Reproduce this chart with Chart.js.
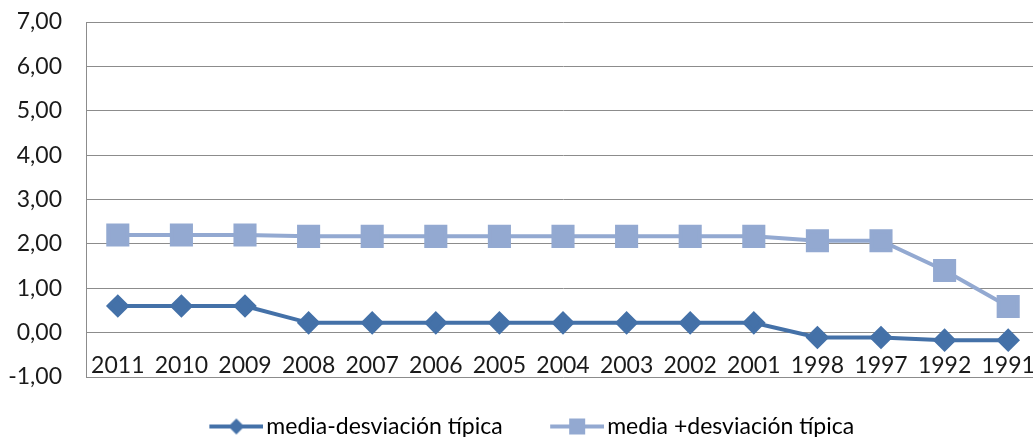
<!DOCTYPE html>
<html>
<head>
<meta charset="utf-8">
<script src="https://cdn.jsdelivr.net/npm/chart.js@4.4.1/dist/chart.umd.min.js"></script>
<style>
  html, body { margin: 0; padding: 0; background: #fff; overflow: hidden; }
  #wrap { width: 1040px; height: 448px; }
</style>
</head>
<body>
<div id="wrap"><canvas id="chart" width="1040" height="448"></canvas></div>
<script>
var years = ["2011", "2010", "2009", "2008", "2007", "2006", "2005", "2004", "2003", "2002", "2001", "1998", "1997", "1992", "1991"];
var mediaMenos = [0.60, 0.60, 0.60, 0.22, 0.22, 0.22, 0.22, 0.22, 0.22, 0.22, 0.22, -0.11, -0.11, -0.17, -0.17];
var mediaMas = [2.20, 2.20, 2.20, 2.17, 2.17, 2.17, 2.17, 2.17, 2.17, 2.17, 2.17, 2.07, 2.07, 1.40, 0.59];
var seriesNames = ["media-desviación típica", "media +desviación típica"];

var darkBlue = "#4471a8";
var lightBlue = "#93a9d1";
var fontName = "Lato, 'Open Sans', sans-serif";

// legend icon: line with the marker in its middle
function legendIcon(color, shape) {
    var c = document.createElement("canvas");
    c.width = 72; c.height = 18;
    var g = c.getContext("2d");
    g.strokeStyle = color;
    g.lineWidth = 4;
    g.beginPath(); g.moveTo(18, 9); g.lineTo(72, 9); g.stroke();
    g.fillStyle = color;
    if (shape == "diamond") {
        g.beginPath();
        g.moveTo(45, 1); g.lineTo(53, 9); g.lineTo(45, 17); g.lineTo(37, 9);
        g.closePath(); g.fill();
    } else {
        g.fillRect(37, 1, 16, 16);
    }
    return c;
}
var icons = [legendIcon(darkBlue, "diamond"), legendIcon(lightBlue, "square")];

// nudge the legend row to the right, the way Excel centred it
var legendShift = {
    id: "legendShift",
    afterLayout: function(ch) {
        ch.legend.left += 7;
        ch.legend.right += 7;
    }
};

var ctx = document.getElementById("chart").getContext("2d");
var chart = new Chart(ctx, {
    type: "line",
    data: {
        labels: years,
        datasets: [{
            label: seriesNames[0], data: mediaMenos,
            borderColor: darkBlue, backgroundColor: darkBlue, borderWidth: 4,
            pointStyle: "rectRot", pointRadius: 9, pointHoverRadius: 9, tension: 0
        }, {
            label: seriesNames[1], data: mediaMas,
            borderColor: lightBlue, backgroundColor: lightBlue, borderWidth: 4,
            pointStyle: "rect", pointRadius: 13.5, pointHoverRadius: 13.5, tension: 0
        }]
    },
    options: {
        responsive: false,
        animation: false,
        layout: { autoPadding: false, padding: { top: 22, right: 0, left: 0, bottom: 0 } },
        scales: {
            x: {
                type: "category", position: { y: 0 }, offset: true,
                grid: { display: false }, border: { display: false },
                ticks: { color: "#1a1a1a", font: { family: fontName, size: 23 }, padding: 11, maxRotation: 0, autoSkip: false },
                afterFit: function(scale) {
                    scale.paddingLeft = 0;
                    scale.paddingRight = 0;
                }
            },
            y: {
                min: -1, max: 7,
                grid: { color: "#8c8c8c", lineWidth: 1, drawTicks: false },
                border: { display: true, color: "#8c8c8c" },
                ticks: { stepSize: 1, padding: 24, color: "#1a1a1a", font: { family: fontName, size: 23 },
                    callback: function(v) { return v.toFixed(2).replace(".", ","); } },
                afterFit: function(scale) {
                    scale.width = 86;
                    scale.paddingTop = 0;
                    scale.paddingBottom = 0;
                }
            }
        },
        plugins: {
            tooltip: { enabled: false },
            legend: {
                position: "bottom",
                labels: {
                    color: "#1a1a1a", font: { family: fontName, size: 23 },
                    usePointStyle: true, pointStyleWidth: 55, padding: 38,
                    generateLabels: function(ch) {
                        return ch.data.datasets.map(function(ds, i) {
                            return { text: ds.label, pointStyle: icons[i], fillStyle: ds.borderColor,
                                strokeStyle: ds.borderColor, lineWidth: 0, datasetIndex: i };
                        });
                    }
                }
            }
        }
    },
    plugins: [legendShift]
});
</script>
</body>
</html>
